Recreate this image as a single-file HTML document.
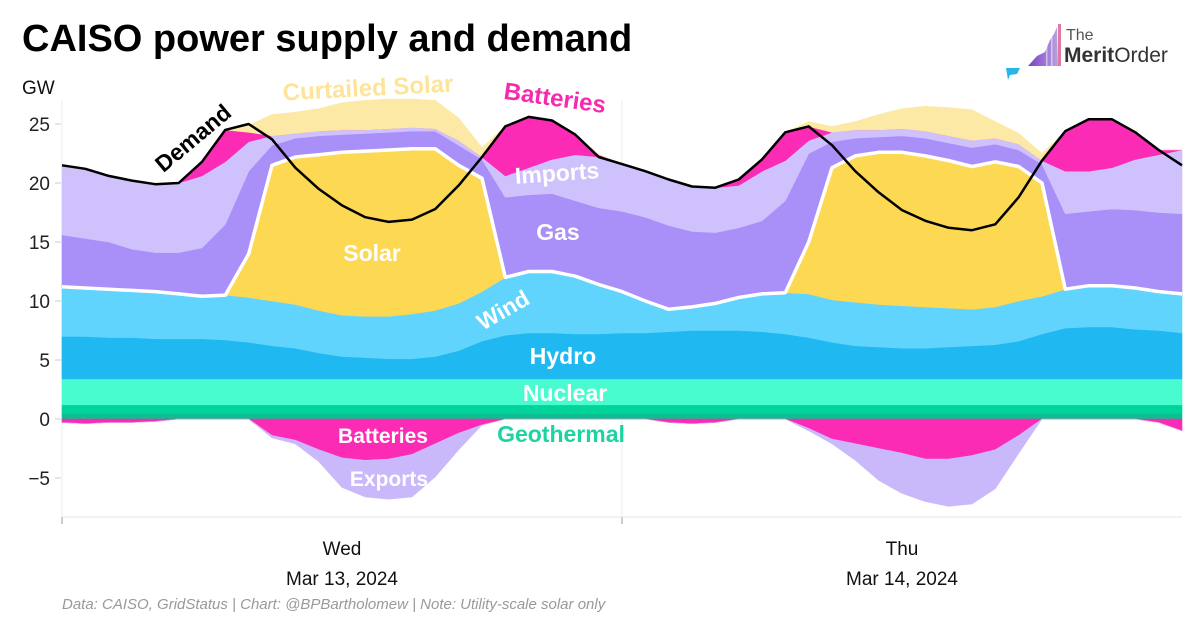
<!DOCTYPE html>
<html><head><meta charset="utf-8">
<style>
html,body{margin:0;padding:0;background:#fff;}
svg{display:block;font-family:"Liberation Sans",Arial,sans-serif;}
</style></head>
<body>
<svg id="chart" width="1200" height="624" viewBox="0 0 1200 624">
  <defs>
    <linearGradient id="lg" x1="0" x2="1" y1="0" y2="0">
      <stop offset="0" stop-color="#7b3fc4"/><stop offset="1" stop-color="#b9a2e0"/>
    </linearGradient>
  </defs>
  <text x="22" y="51" font-size="38" font-weight="bold" fill="#000">CAISO power supply and demand</text>
  <g>
    <polygon points="1028,66 1037,56 1045,52 1050,40 1054,34 1057,27 1058,66" fill="url(#lg)"/>
    <rect x="1046" y="44" width="1.5" height="22" fill="#fff" opacity="0.5"/>
    <rect x="1051" y="36" width="1.5" height="30" fill="#fff" opacity="0.5"/>
    <rect x="1058" y="24" width="3" height="42" fill="#e07aa0"/>
    <polygon points="1006,68 1020,68 1017,74 1010,75 1008,80" fill="#2ab4ea"/>
    <text x="1066" y="40" font-size="16" fill="#555">The</text>
    <text x="1064" y="62" font-size="21" fill="#333"><tspan font-weight="bold">Merit</tspan>Order</text>
  </g>
  <text x="22" y="94" font-size="19" fill="#111">GW</text>
  <g id="plot"></g>
  <g id="labels"></g>
  <text x="62" y="609" font-size="15" font-style="italic" fill="#999">Data: CAISO, GridStatus | Chart: @BPBartholomew | Note: Utility-scale solar only</text>
</svg>
<script>
const hours = Array.from({length:49},(_,i)=>i);
const yTicks = [25,20,15,10,5,0,-5];
const xTickHours = [0,24];
const dayLabels = [["Wed","Mar 13, 2024"],["Thu","Mar 14, 2024"]];
const dayCenters = [12,36];
const geothermal = Array(49).fill(1.2);
const nuclear = Array(49).fill(2.2);
const hydro = [3.6,3.6,3.5,3.5,3.4,3.4,3.4,3.3,3.1,2.8,2.6,2.2,1.9,1.8,1.7,1.7,1.9,2.4,3.2,3.7,3.9,3.9,3.8,3.8,3.9,3.9,4.0,4.1,4.1,4.1,4.0,3.8,3.5,3.1,2.8,2.7,2.6,2.6,2.7,2.8,2.9,3.2,3.8,4.3,4.4,4.4,4.2,4.1,3.9];
const wind = [4.2,4.1,4.1,4.0,4.0,3.8,3.6,3.8,3.8,3.8,3.7,3.6,3.5,3.5,3.6,3.8,3.9,4.0,4.2,4.9,5.2,5.2,4.9,4.2,3.5,2.7,1.9,2.0,2.3,2.8,3.2,3.5,3.7,3.6,3.7,3.6,3.6,3.5,3.3,3.1,3.2,3.4,3.2,3.3,3.5,3.5,3.5,3.3,3.3];
const solar = [0,0,0,0,0,0,0,0,3.7,11.5,12.5,13.2,13.8,14.0,14.1,14.0,13.7,11.7,9.6,0,0,0,0,0,0,0,0,0,0,0,0,0,4.4,11.2,12.4,12.9,13.0,12.8,12.5,12.1,12.3,11.4,9.6,0,0,0,0,0,0];
const gas = [4.4,4.2,4.0,3.5,3.3,3.5,4.1,6.0,7.0,1.7,1.6,1.6,1.5,1.5,1.5,1.5,1.5,1.7,1.6,6.8,6.5,6.6,6.4,6.5,6.8,7.1,7.1,6.4,6.0,5.9,6.2,7.8,7.5,2.2,1.5,1.3,1.4,1.5,1.5,1.6,1.5,1.4,1.6,6.4,6.3,6.5,6.6,6.7,6.8];
const imports = [5.8,5.8,5.6,5.8,5.8,5.9,6.1,5.3,2.5,0.8,0.4,0.4,0.4,0.3,0.3,0.3,0.2,0.4,0.2,1.8,2.3,2.9,3.9,4.3,4.0,3.9,3.9,3.8,3.8,3.6,4.2,3.4,1.1,0.8,0.7,0.6,0.6,0.6,0.6,0.6,0.5,0.5,0.3,3.6,3.4,3.5,4.3,4.9,5.4];
const batteriesOut = [0,0,0,0,0,0,1.2,2.7,0.8,0,0,0,0,0,0,0,0,0,0,4.2,4.3,3.3,1.7,0.2,0,0,0,0,0,0.5,1.0,2.4,1.2,0,0,0,0,0,0,0,0,0,0,3.4,4.4,4.1,2.3,0.4,0];
const curtailed = [0,0,0,0,0,0,0,0,0.6,1.8,1.8,1.9,2.3,2.5,2.5,2.4,2.4,1.9,0.8,0,0,0,0,0,0,0,0,0,0,0,0,0,0.4,0.5,0.7,1.3,1.7,2.1,2.4,2.6,1.4,0.9,0.6,0,0,0,0,0,0];
const batteriesIn = [-0.3,-0.4,-0.3,-0.3,-0.2,0,0,0,0,-1.4,-1.8,-2.6,-3.3,-3.5,-3.4,-3.0,-2.1,-1.2,-0.5,0,0,0,0,0,0,0,-0.3,-0.4,-0.3,0,0,0,-0.8,-1.7,-2.1,-2.5,-2.9,-3.4,-3.4,-3.1,-2.6,-1.4,0,0,0,0,0,-0.3,-1.0];
const exportsArr = [0,0,0,0,0,0,0,0,0,-0.2,-0.3,-1.0,-2.5,-3.1,-3.4,-3.6,-2.8,-1.4,0,0,0,0,0,0,0,0,0,0,0,0,0,0,-0.2,-0.4,-1.4,-2.7,-3.4,-3.6,-4.0,-4.1,-3.3,-1.5,0,0,0,0,0,0,0];
const demand = [21.5,21.2,20.6,20.2,19.9,20.0,21.8,24.5,25.0,23.7,21.3,19.5,18.1,17.1,16.7,16.9,17.8,19.8,22.2,24.8,25.6,25.3,24.1,22.2,21.6,21.0,20.3,19.7,19.6,20.3,22.0,24.3,24.8,23.2,21.0,19.2,17.7,16.8,16.2,16.0,16.5,18.8,21.9,24.4,25.4,25.4,24.3,22.8,21.5];

const NS='http://www.w3.org/2000/svg';
const X0=62, X1=1182, Y0=419, PX=11.8;
function xs(h){return X0+(X1-X0)*h/48;}
function ys(v){return Y0-v*PX;}
const plot=document.getElementById('plot');
const labels=document.getElementById('labels');
function mk(tag,attrs,parent){const e=document.createElementNS(NS,tag);for(const k in attrs)e.setAttribute(k,attrs[k]);(parent||plot).appendChild(e);return e;}

xTickHours.forEach(h=>{
  const g=mk('line',{x1:xs(h),x2:xs(h),y1:100,y2:517,stroke:'#eee','stroke-width':1});
  
  
  const t=mk('line',{x1:xs(h),x2:xs(h),y1:517,y2:524,stroke:'#999','stroke-width':1});
  
  
});
const ax=mk('line',{x1:X0,x2:X1,y1:517,y2:517,stroke:'#e6e6e6','stroke-width':1});


yTicks.forEach(v=>{
  const t=mk('text',{x:50,y:ys(v)+7,'font-size':19,'text-anchor':'end',fill:'#222'},labels);
  t.textContent=v<0?'\u2212'+Math.abs(v):String(v);
  
  
  const m=mk('line',{x1:55,x2:61,y1:ys(v),y2:ys(v),stroke:'#ccc'});
  
  
});
dayCenters.forEach((h,i)=>{
  const a=mk('text',{x:xs(h),y:555,'font-size':19,'text-anchor':'middle',fill:'#111'},labels);
  a.textContent=dayLabels[i][0];
  
  
  const b=mk('text',{x:xs(h),y:585,'font-size':19,'text-anchor':'middle',fill:'#111'},labels);
  b.textContent=dayLabels[i][1];
  
  
});

function area(lo,hi,color,name){
  let d='M'+hours.map(h=>xs(h).toFixed(1)+','+ys(hi[h]).toFixed(1)).join('L');
  d+='L'+hours.slice().reverse().map(h=>xs(h).toFixed(1)+','+ys(lo[h]).toFixed(1)).join('L')+'Z';
  const p=mk('path',{d:d,fill:color,stroke:color,'stroke-width':0.6});
  
  
}
const pos=[[geothermal,'#00d49a','area-geothermal'],[nuclear,'#48fccf','area-nuclear'],[hydro,'#1fb8f0','area-hydro'],[wind,'#60d4fd','area-wind'],[solar,'#fdd853','area-solar'],[gas,'#a98ff8','area-gas'],[imports,'#cfc2fc','area-imports'],[batteriesOut,'#fb2bb5','area-batteries-discharge'],[curtailed,'#fde9a6','area-curtailed-solar']];
let cum=Array(49).fill(0);
let solarTop=null;
pos.forEach(([arr,c,n])=>{
  const next=cum.map((v,i)=>v+arr[i]);
  area(cum,next,c,n);
  if(n==='area-solar') solarTop=next.slice();
  cum=next;
});
const geoDark=mk('rect',{x:X0,y:ys(0.45),width:X1-X0,height:0.45*PX,fill:'#0bc08e'});


let ncum=Array(49).fill(0);
[[batteriesIn,'#fb2bb5','area-batteries-charge'],[exportsArr,'#c9b9fb','area-exports']].forEach(([arr,c,n])=>{
  const next=ncum.map((v,i)=>v+arr[i]);
  area(ncum,next,c,n);
  ncum=next;
});
const wl=mk('path',{d:'M'+hours.map(h=>xs(h).toFixed(1)+','+ys(solarTop[h]).toFixed(1)).join('L'),fill:'none',stroke:'#fff','stroke-width':3.5,'stroke-linejoin':'round'});


const dl=mk('path',{d:'M'+hours.map(h=>xs(h).toFixed(1)+','+ys(demand[h]).toFixed(1)).join('L'),fill:'none',stroke:'#000','stroke-width':2.5,'stroke-linejoin':'round'});



const L=[
 ['Curtailed Solar',368,96,-3,'#fde49a',24,'label-curtailed-solar'],
 ['Batteries',555,106,8,'#f52aae',24,'label-batteries-discharge'],
 ['Demand',193,146,-40,'#000',23,'label-demand'],
 ['Imports',557,181,-4,'#fff',23,'label-imports'],
 ['Gas',558,240,0,'#fff',23,'label-gas'],
 ['Solar',372,261,0,'#fff',23,'label-solar'],
 ['Wind',503,318,-30,'#fff',23,'label-wind'],
 ['Hydro',563,364,0,'#fff',23,'label-hydro'],
 ['Nuclear',565,401,0,'#fff',23,'label-nuclear'],
 ['Geothermal',561,442,0,'#1dd4a0',23,'label-geothermal'],
 ['Batteries',383,443,0,'#fff',21,'label-batteries-charge'],
 ['Exports',389,486,0,'#fff',21,'label-exports']
];
L.forEach(([t,x,y,r,c,s,n])=>{
  const e=mk('text',{x:x,y:y,'font-size':s,'font-weight':'bold','text-anchor':'middle',fill:c,transform:'rotate('+r+' '+x+' '+(y-8)+')'},labels);
  e.textContent=t;
  
  
});
</script>
</body></html>
